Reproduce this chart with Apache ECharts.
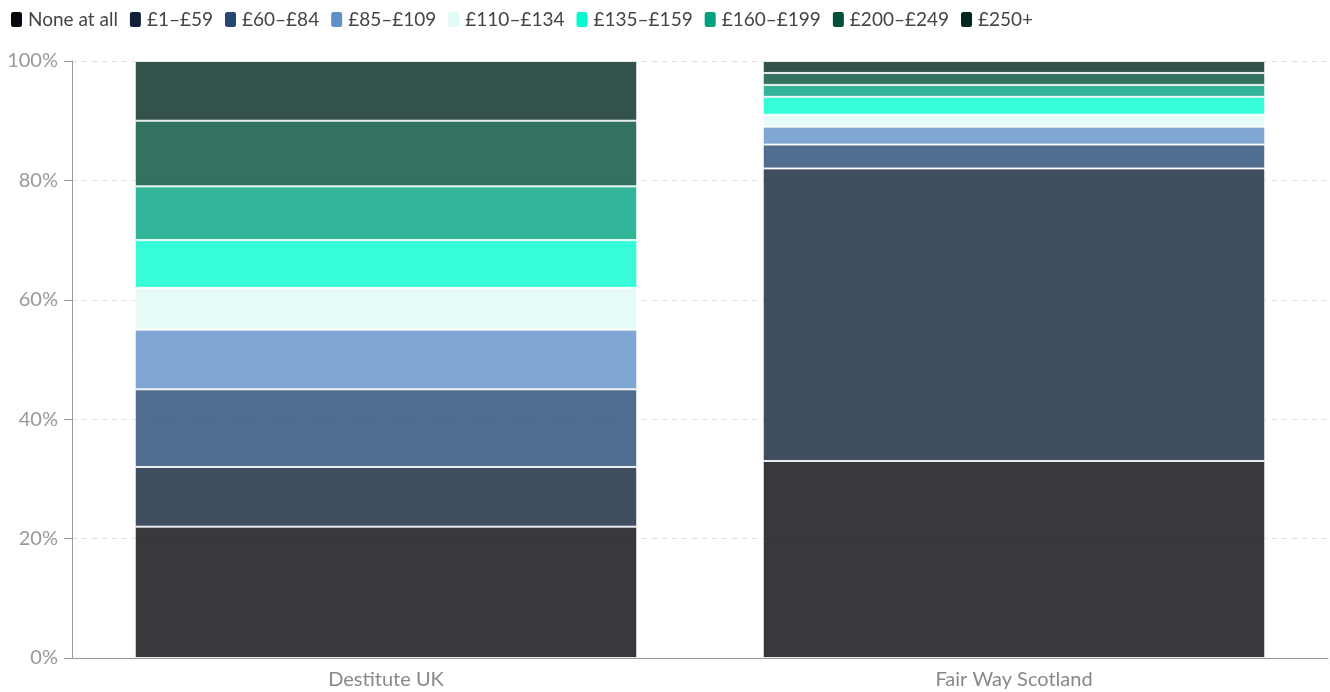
<!DOCTYPE html>
<html>
<head>
<meta charset="utf-8">
<script src="https://cdn.jsdelivr.net/npm/echarts@6/dist/echarts.min.js"></script>
<style>
  html, body { margin: 0; padding: 0; background: #fff; }
  #chart { width: 1330px; height: 692px; }
</style>
</head>
<body>
<div id="chart"></div>
<script>
// Weekly income bands (share of respondents, %)
const categories = ['Destitute UK', 'Fair Way Scotland'];
const bands = ['None at all', '£1–£59', '£60–£84', '£85–£109', '£110–£134', '£135–£159', '£160–£199', '£200–£249', '£250+'];
const noneAtAll = [22, 33];
const band1to59 = [10, 49];
const band60to84 = [13, 4];
const band85to109 = [10, 3];
const band110to134 = [7, 2];
const band135to159 = [8, 3];
const band160to199 = [9, 2];
const band200to249 = [11, 2];
const band250plus = [10, 2];
const yTicks = [0, 20, 40, 60, 80, 100];

const seriesValues = [noneAtAll, band1to59, band60to84, band85to109, band110to134,
  band135to159, band160to199, band200to249, band250plus];
const palette = ['#05080d', '#102037', '#244873', '#6090c8', '#e0fbf6',
  '#04fbce', '#00a27f', '#004f39', '#00271e'];

const font = 'Lato, "Open Sans", sans-serif';

const chart = echarts.init(document.getElementById('chart'), null, { renderer: 'canvas' });
chart.setOption({
  animation: false,
  color: palette,
  legend: {
    left: 4,
    top: 5,
    padding: [5, 5],
    icon: 'roundRect',
    itemWidth: 13,
    itemHeight: 17,
    itemGap: 10,
    textStyle: { fontFamily: font, fontSize: 19, color: '#444' },
    itemStyle: { opacity: 1 },
    data: bands
  },
  grid: { left: 72, right: 2, top: 61, bottom: 34, containLabel: false },
  xAxis: {
    type: 'category',
    data: categories,
    axisLine: { lineStyle: { color: '#999' } },
    axisTick: { alignWithLabel: true, length: 8, lineStyle: { color: '#999' } },
    axisLabel: { fontFamily: font, fontSize: 20, color: '#888', margin: 12 }
  },
  yAxis: {
    type: 'value',
    min: yTicks[0],
    max: yTicks[yTicks.length - 1],
    interval: yTicks[1] - yTicks[0],
    axisLine: { show: true, lineStyle: { color: '#999' } },
    axisTick: { show: true, length: 8, lineStyle: { color: '#999' } },
    axisLabel: { fontFamily: font, fontSize: 20, color: '#999', margin: 14, formatter: '{value}%' },
    splitLine: { lineStyle: { color: '#ddd', type: [5, 5] } }
  },
  series: bands.map((name, i) => ({
    name,
    type: 'bar',
    stack: 'total',
    barWidth: '80%',
    data: seriesValues[i],
    itemStyle: { opacity: 0.8, borderColor: '#fff', borderWidth: 1 }
  }))
});
</script>
</body>
</html>
